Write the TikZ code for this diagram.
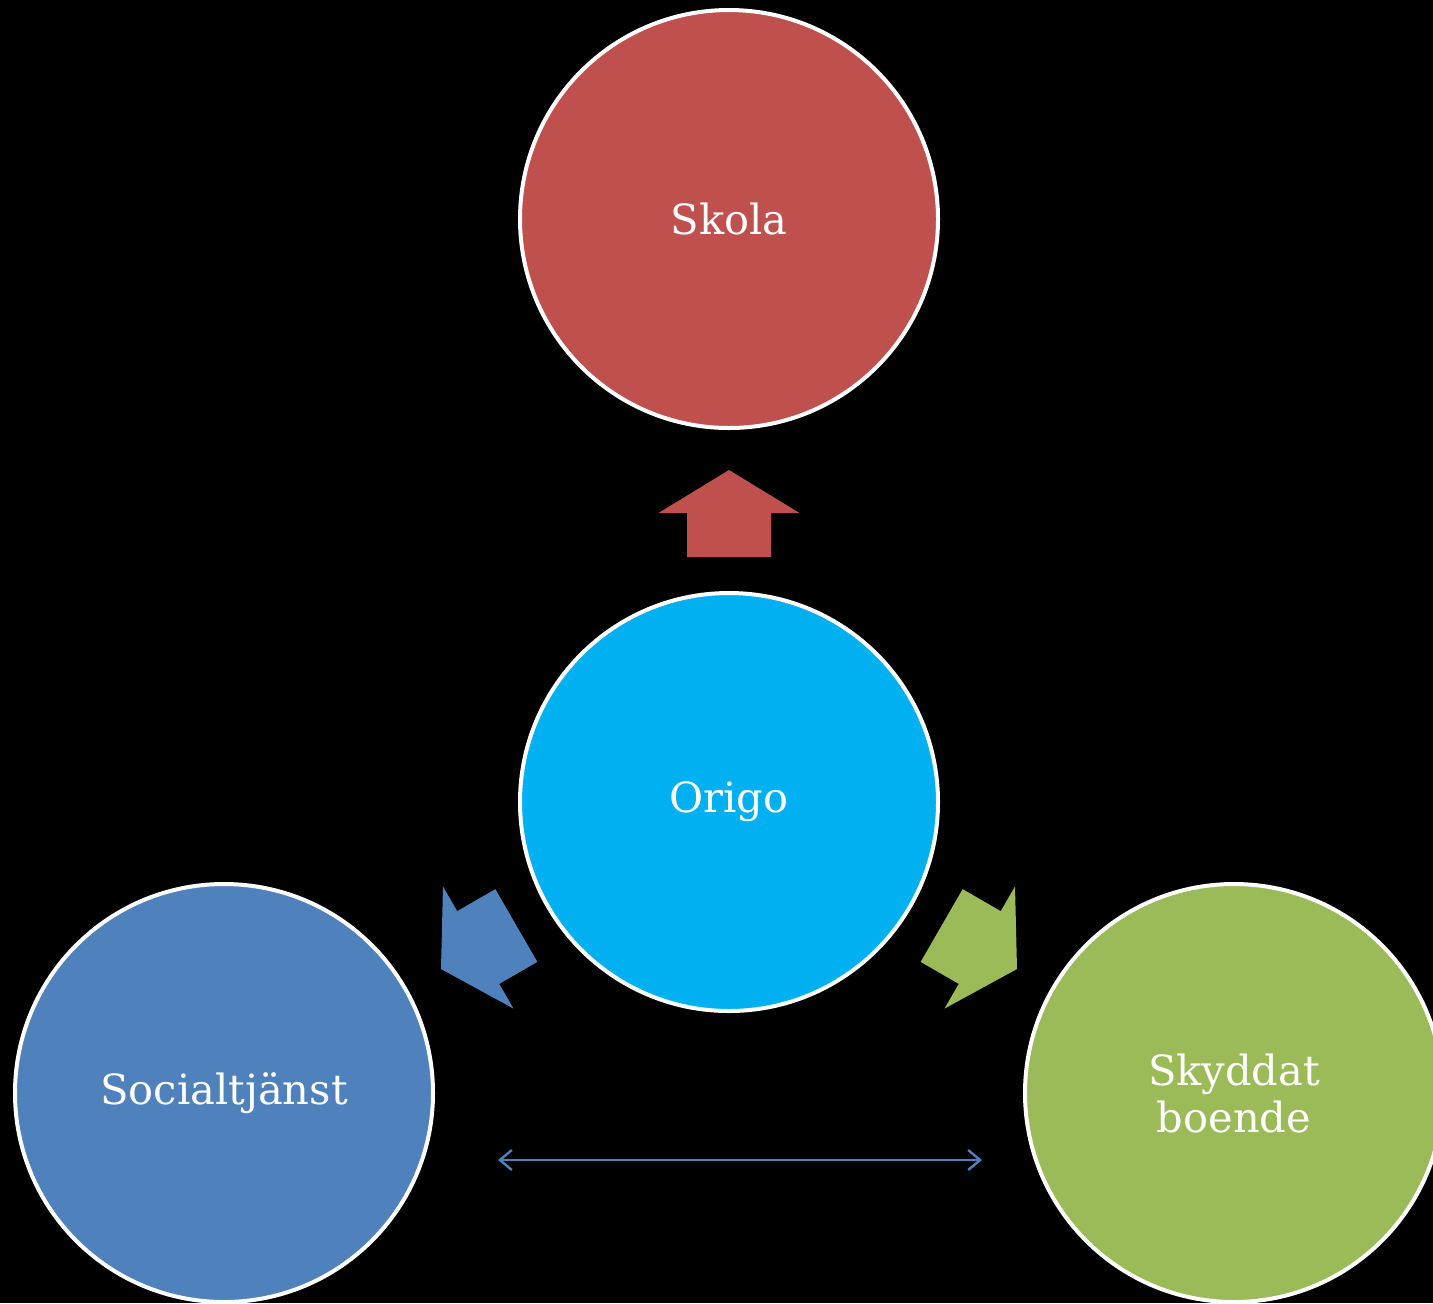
\documentclass[tikz,border=0pt]{standalone}
\usepackage{fontspec}
\setmainfont{DejaVu Serif}
\usetikzlibrary{arrows.meta}
\definecolor{cskola}{HTML}{C0504D}
\definecolor{corigo}{HTML}{00B0F0}
\definecolor{csocial}{HTML}{4F81BD}
\definecolor{cskydd}{HTML}{9BBB59}
\tikzset{
  bubble/.style={circle, draw=white, line width=2pt, minimum size=209pt, inner sep=0pt,
    text=white, align=center, font=\fontsize{20.8pt}{23.5pt}\selectfont},
}
\newcommand{\blockarr}[3]{%
  \fill[#3, shift={#1}, rotate=#2] (0,0) -- (-43,70.5) -- (-43,42) -- (-87,42) -- (-87,-42) -- (-43,-42) -- (-43,-70.5) -- cycle;}
\begin{document}
\begin{tikzpicture}[x=0.5pt,y=-0.5pt]
\fill[black] (0,0) rectangle (1433,1303);
\useasboundingbox (0,0) rectangle (1433,1303);
\node[bubble, fill=cskola] (skola) at (729,219) {Skola};
\node[bubble, fill=corigo] (origo) at (729,802) {Origo};
\node[bubble, fill=csocial] (social) at (224,1093) {Socialtjänst};
\node[bubble, fill=cskydd] (skydd) at (1234,1093) {Skyddat\\boende};
\blockarr{(729,470)}{90}{cskola}
\blockarr{(441,969)}{210}{csocial}
\blockarr{(1017,969)}{330}{cskydd}
\coordinate (la) at (498,1160);
\coordinate (ra) at (982,1160);
\draw[csocial, line width=1.2pt, {Straight Barb[length=6pt,width=10pt]}-{Straight Barb[length=6pt,width=10pt]}] (la) -- (ra);
\end{tikzpicture}
\end{document}
